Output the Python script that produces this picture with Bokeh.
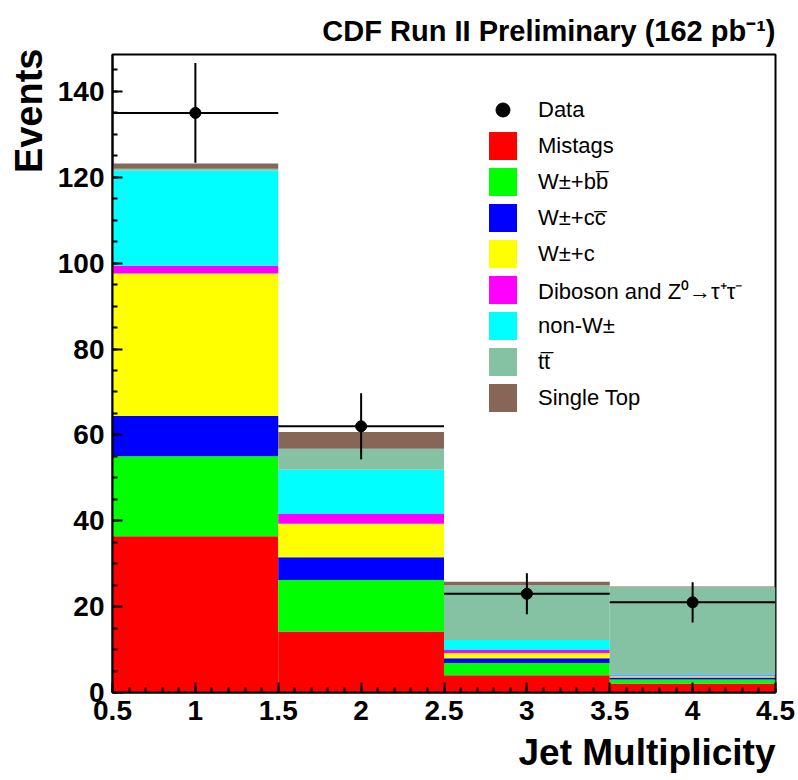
import numpy as np
from bokeh.plotting import figure
from bokeh.models import (ColumnDataSource, FixedTicker, Title, Legend, LegendItem, Range1d)
from bokeh.embed import file_html
from bokeh.resources import INLINE

# ---- data ----
jets = [1, 2, 3, 4]
mistags = [36.4, 14.2, 4.0, 2.1]
wbb = [18.6, 12.0, 2.9, 0.9]
wcc = [9.4, 5.3, 1.1, 0.5]
wc = [33.2, 7.8, 1.2, 0.3]
diboson = [1.8, 2.3, 0.7, 0.2]
nonw = [22.2, 10.3, 2.3, 0.3]
ttbar = [0.4, 4.9, 12.8, 20.2]
singletop = [1.2, 3.9, 0.8, 0.2]
data = [135, 62, 23, 21]
data_err = [11.6, 7.7, 4.8, 4.7]

series_keys = ["mistags", "wbb", "wcc", "wc", "diboson", "nonw", "ttbar", "singletop"]
series_labels = ["Mistags", "W\u00b1+bb\u0305", "W\u00b1+cc\u0305", "W\u00b1+c",
                 "Diboson and Z\u2070\u2192\u03c4\u207a\u03c4\u207b", "non-W\u00b1",
                 "tt\u0305", "Single Top"]
colors = ["#ff0000", "#00ff00", "#0000ff", "#ffff00", "#ff00ff", "#00ffff",
          "#85c2a3", "#876657"]

xticks = [0.5, 1, 1.5, 2, 2.5, 3, 3.5, 4, 4.5]
xtick_labels = ["0.5", "1", "1.5", "2", "2.5", "3", "3.5", "4", "4.5"]
yticks = [0, 20, 40, 60, 80, 100, 120, 140]
ytick_labels = ["0", "20", "40", "60", "80", "100", "120", "140"]

title_text = "CDF Run II Preliminary (162 pb\u207b\u00b9)"
xlabel_text = "Jet Multiplicity"
ylabel_text = "Events"

bin_width = 1.0

src = ColumnDataSource(dict(jet=jets, mistags=mistags, wbb=wbb, wcc=wcc, wc=wc,
                            diboson=diboson, nonw=nonw, ttbar=ttbar, singletop=singletop))

FONT = "Liberation Sans"

p = figure(width=798, height=780, x_range=Range1d(0.5, 4.5), y_range=Range1d(0, 148.6),
           output_backend="svg", toolbar_location=None,
           min_border_left=110, min_border_right=23, min_border_top=54, min_border_bottom=88)

bars = p.vbar_stack(series_keys, x="jet", width=bin_width, source=src,
                    fill_color=colors, line_color=None)

dsrc = ColumnDataSource(dict(
    x=jets, y=data,
    xl=[j - bin_width / 2 for j in jets], xr=[j + bin_width / 2 for j in jets],
    yl=[d - e for d, e in zip(data, data_err)], yh=[d + e for d, e in zip(data, data_err)],
))
p.segment(x0="xl", x1="xr", y0="y", y1="y", source=dsrc, line_color="black", line_width=2)
p.segment(x0="x", x1="x", y0="yl", y1="yh", source=dsrc, line_color="black", line_width=2)
dots = p.scatter(x="x", y="y", source=dsrc, size=11, color="black")

items = [LegendItem(label="Data", renderers=[dots])]
for lbl, r in zip(series_labels, bars):
    items.append(LegendItem(label=lbl, renderers=[r]))
legend = Legend(items=items, location=(373, 277), padding=0, margin=0,
                glyph_width=35, glyph_height=35, label_height=35, spacing=1,
                label_standoff=18, label_text_font=FONT, label_text_font_size="22px",
                label_text_color="black",
                border_line_color=None, background_fill_alpha=0)
p.add_layout(legend)

p.xgrid.visible = False
p.ygrid.visible = False
p.outline_line_color = "black"
p.outline_line_width = 2

p.xaxis.ticker = FixedTicker(ticks=xticks, minor_ticks=list(np.round(np.arange(0.5, 4.51, 0.1), 2)))
p.xaxis.major_label_overrides = {t: l for t, l in zip(xticks, xtick_labels)}
p.yaxis.ticker = FixedTicker(ticks=yticks, minor_ticks=list(range(0, 150, 5)))
p.yaxis.major_label_overrides = {t: l for t, l in zip(yticks, ytick_labels)}

for ax in (p.xaxis, p.yaxis):
    ax.axis_line_width = 2
    ax.major_tick_in = 10
    ax.major_tick_out = 0
    ax.minor_tick_in = 5
    ax.minor_tick_out = 0
    ax.major_tick_line_width = 2
    ax.minor_tick_line_width = 2
    ax.major_label_text_font = FONT
    ax.major_label_text_font_style = "bold"
    ax.major_label_text_font_size = "28px"
    ax.major_label_text_color = "black"
p.xaxis.major_label_standoff = 8
p.yaxis.major_label_standoff = 8

p.title.text = title_text
p.title.align = "right"
p.title.standoff = 15
p.title.text_font = FONT
p.title.text_font_style = "bold"
p.title.text_font_size = "29px"
p.title.text_color = "black"

p.add_layout(Title(text=xlabel_text, align="right", standoff=15, text_font=FONT,
                   text_font_style="bold", text_font_size="37px", text_color="black"), "below")
p.add_layout(Title(text=ylabel_text, align="right", standoff=10, offset=-6, text_font=FONT,
                   text_font_style="bold", text_font_size="38px", text_color="black"), "left")

open("out.html", "w").write(file_html(p, INLINE))
